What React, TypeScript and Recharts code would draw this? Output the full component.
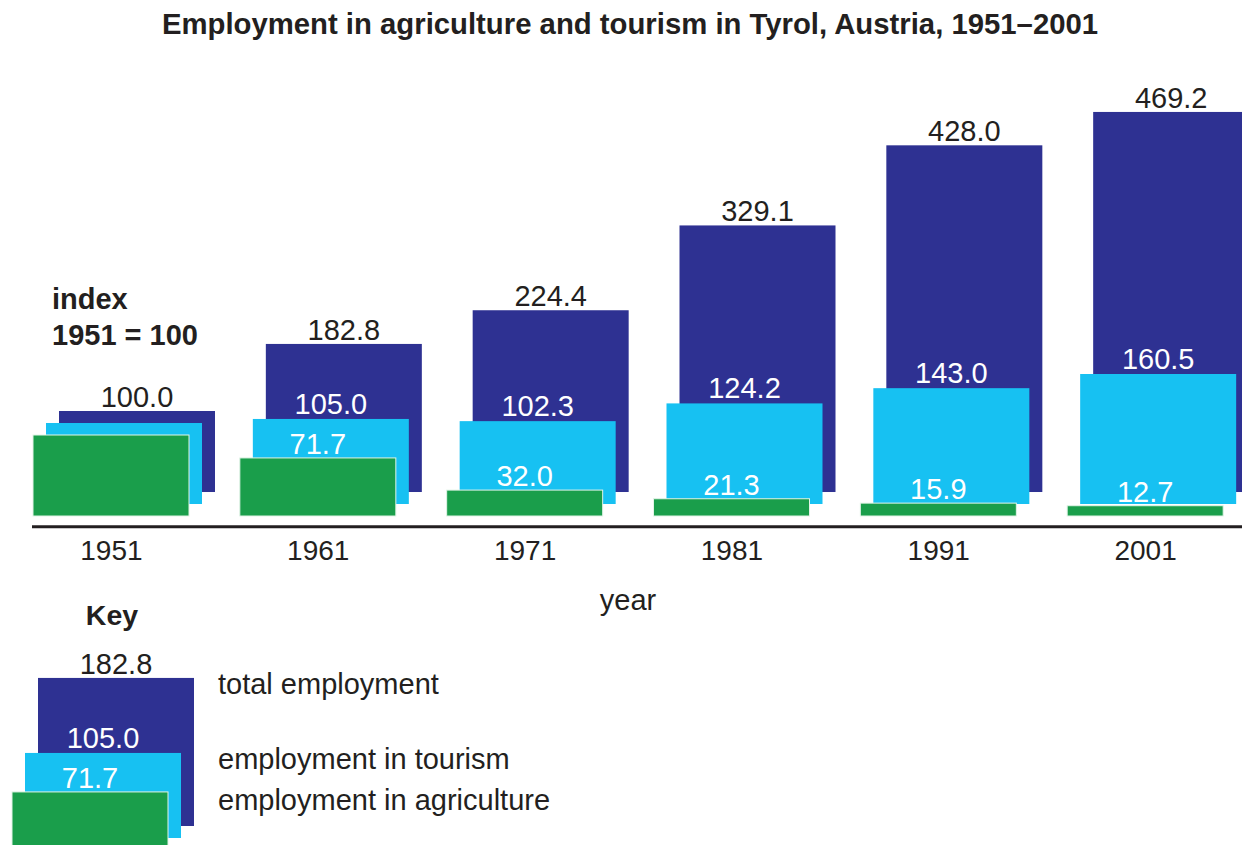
import { BarChart, Bar, XAxis, YAxis, LabelList } from 'recharts';

const years = ['1951', '1961', '1971', '1981', '1991', '2001'];
const totalEmployment = [100.0, 182.8, 224.4, 329.1, 428.0, 469.2];
const tourismEmployment = [100.0, 105.0, 102.3, 124.2, 143.0, 160.5];
const agricultureEmployment = [100.0, 71.7, 32.0, 21.3, 15.9, 12.7];

// the base year carries only the total label
const labelledFrom = 1;
const keyYearIndex = 1;

const legendLabels = ['total employment', 'employment in tourism', 'employment in agriculture'];

const NAVY = '#2e3192';
const SKY = '#17c1f2';
const GREEN = '#1a9e4b';
const INK = '#231f20';
const FONT = '"Liberation Sans", Arial, Helvetica, sans-serif';

const data = years.map((year, i) => ({
  year,
  total: totalEmployment[i],
  tourism: tourismEmployment[i],
  agriculture: agricultureEmployment[i],
  totalText: totalEmployment[i].toFixed(1),
  tourismText: i >= labelledFrom ? tourismEmployment[i].toFixed(1) : '',
  agricultureText: i >= labelledFrom ? agricultureEmployment[i].toFixed(1) : '',
}));

const keyData = [data[keyYearIndex]];

// every series sits shifted right and up from the agriculture bar
const series = [
  { key: 'total', fill: NAVY, dx: 26, dy: 24, text: INK, gap: 4, stroke: undefined },
  { key: 'tourism', fill: SKY, dx: 13, dy: 12, text: '#ffffff', gap: 5, stroke: undefined },
  { key: 'agriculture', fill: GREEN, dx: 0, dy: 0, text: '#ffffff', gap: 4, stroke: '#e2f4e7' },
];

function offsetBar(dx: number, dy: number, fill: string, stroke?: string) {
  return (props: any) => {
    const { x, y, width, height } = props;
    if (width == null || height == null) return <g />;
    return (
      <rect
        x={x + dx}
        y={y - dy}
        width={width}
        height={height}
        fill={fill}
        stroke={stroke ?? 'none'}
        strokeWidth={stroke ? 1 : 0}
      />
    );
  };
}

function offsetLabel(dx: number, dy: number, gap: number, fill: string) {
  return (props: any) => {
    const { value } = props;
    if (value === '' || value == null) return null;
    const vb = props.viewBox && props.viewBox.width != null ? props.viewBox : props;
    const x = Number(vb.x) + Number(vb.width) / 2 + dx;
    const y = Number(vb.y) - dy - gap;
    return (
      <text x={x} y={y} textAnchor="middle" fontSize={29} fill={fill} fontFamily={FONT}>
        {value}
      </text>
    );
  };
}

function renderBars() {
  return series.map((s) => (
    <Bar
      key={s.key}
      dataKey={s.key}
      barSize={156}
      isAnimationActive={false}
      shape={offsetBar(s.dx, s.dy, s.fill, s.stroke)}
    >
      <LabelList dataKey={`${s.key}Text`} content={offsetLabel(s.dx, s.dy, s.gap, s.text)} />
    </Bar>
  ));
}

export default function App() {
  return (
    <div
      style={{
        position: 'absolute',
        left: 0,
        top: 0,
        width: 1242,
        height: 845,
        overflow: 'hidden',
        background: '#ffffff',
        fontFamily: FONT,
      }}
    >
      <div style={{ position: 'absolute', left: 0, top: 0 }}>
        <BarChart
          width={1250}
          height={600}
          data={data}
          barGap={-156}
          margin={{ top: 30, right: 1, bottom: 33.3, left: 32 }}
        >
          <XAxis
            dataKey="year"
            height={40}
            interval={0}
            padding={{ left: -24, right: 0 }}
            axisLine={{ stroke: INK, strokeWidth: 3 }}
            tickLine={false}
            tickMargin={7}
            tick={{ fontSize: 28, fill: INK, fontFamily: FONT }}
          />
          <YAxis hide domain={[-13.2, 600]} allowDataOverflow />
          {renderBars()}
        </BarChart>
      </div>

      <div style={{ position: 'absolute', left: 0, top: 600 }}>
        <BarChart
          width={220}
          height={260}
          data={keyData}
          barGap={-156}
          margin={{ top: 7, right: 40, bottom: 10, left: 0 }}
        >
          <XAxis dataKey="year" hide />
          <YAxis hide domain={[0, 300]} />
          {renderBars()}
        </BarChart>
      </div>

      <svg
        width={1242}
        height={845}
        style={{ position: 'absolute', left: 0, top: 0, pointerEvents: 'none' }}
        fontFamily={FONT}
        fill={INK}
      >
        <text x={630} y={34} textAnchor="middle" fontSize={29.3} fontWeight="bold">
          Employment in agriculture and tourism in Tyrol, Austria, 1951–2001
        </text>
        <text x={52} y={309} fontSize={29} fontWeight="bold">
          index
        </text>
        <text x={52} y={345} fontSize={29} fontWeight="bold">
          1951 = 100
        </text>
        <text x={628} y={610} textAnchor="middle" fontSize={29}>
          year
        </text>
        <text x={112} y={625} textAnchor="middle" fontSize={28.5} fontWeight="bold">
          Key
        </text>
        <text x={218} y={694} fontSize={29}>
          {legendLabels[0]}
        </text>
        <text x={218} y={769} fontSize={29}>
          {legendLabels[1]}
        </text>
        <text x={218} y={810} fontSize={29}>
          {legendLabels[2]}
        </text>
      </svg>
    </div>
  );
}
